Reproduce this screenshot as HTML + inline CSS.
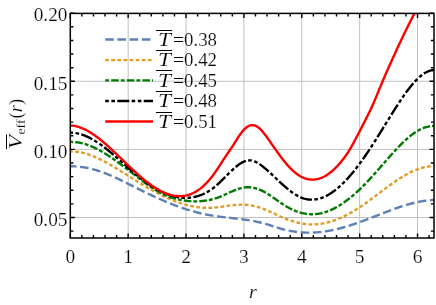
<!DOCTYPE html>
<html><head><meta charset="utf-8"><title>V_eff</title>
<style>
html,body{margin:0;padding:0;background:#fff;}
body{width:436px;height:305px;overflow:hidden;font-family:"Liberation Serif",serif;}
svg{display:block;}
text{font-family:"Liberation Serif",serif;fill:#000;stroke:#fff;stroke-width:0.18px;paint-order:fill stroke;}
svg{will-change:transform;}
</style></head><body>
<svg width="436" height="305" viewBox="0 0 436 305">
<rect width="436" height="305" fill="#fff"/>
<defs><clipPath id="c"><rect x="70.30" y="13.40" width="363.70" height="224.60"/></clipPath></defs>
<path d="M128.17 13.40 V238.00 M186.04 13.40 V238.00 M243.91 13.40 V238.00 M301.78 13.40 V238.00 M359.65 13.40 V238.00 M417.52 13.40 V238.00 M70.30 217.50 H434.00 M70.30 149.40 H434.00 M70.30 81.30 H434.00" stroke="#c2c2c2" stroke-width="1" fill="none"/>
<g clip-path="url(#c)" fill="none" stroke-width="2.4" stroke-linejoin="round">
<path d="M70.30 166.28 L71.30 166.29 L72.30 166.30 L73.30 166.33 L74.30 166.37 L75.30 166.41 L76.30 166.48 L77.30 166.55 L78.30 166.63 L79.30 166.73 L80.30 166.84 L81.30 166.96 L82.30 167.09 L83.30 167.23 L84.30 167.39 L85.30 167.56 L86.30 167.73 L87.30 167.93 L88.30 168.13 L89.30 168.34 L90.30 168.57 L91.30 168.81 L92.30 169.05 L93.30 169.32 L94.30 169.59 L95.30 169.87 L96.30 170.17 L97.30 170.48 L98.30 170.79 L99.30 171.12 L100.30 171.46 L101.30 171.81 L102.30 172.17 L103.30 172.53 L104.30 172.91 L105.30 173.29 L106.30 173.68 L107.30 174.08 L108.30 174.49 L109.30 174.91 L110.30 175.33 L111.30 175.76 L112.30 176.20 L113.30 176.64 L114.30 177.09 L115.30 177.54 L116.30 178.00 L117.30 178.46 L118.30 178.93 L119.30 179.40 L120.30 179.88 L121.30 180.36 L122.30 180.85 L123.30 181.34 L124.30 181.83 L125.30 182.32 L126.30 182.82 L127.30 183.31 L128.30 183.81 L129.30 184.31 L130.30 184.82 L131.30 185.32 L132.30 185.82 L133.30 186.33 L134.30 186.83 L135.30 187.33 L136.30 187.84 L137.30 188.34 L138.30 188.84 L139.30 189.34 L140.30 189.83 L141.30 190.33 L142.30 190.82 L143.30 191.31 L144.30 191.80 L145.30 192.29 L146.30 192.77 L147.30 193.25 L148.30 193.73 L149.30 194.21 L150.30 194.68 L151.30 195.15 L152.30 195.62 L153.30 196.08 L154.30 196.55 L155.30 197.01 L156.30 197.46 L157.30 197.91 L158.30 198.36 L159.30 198.81 L160.30 199.25 L161.30 199.69 L162.30 200.12 L163.30 200.55 L164.30 200.98 L165.30 201.40 L166.30 201.82 L167.30 202.24 L168.30 202.65 L169.30 203.06 L170.30 203.46 L171.30 203.86 L172.30 204.26 L173.30 204.65 L174.30 205.03 L175.30 205.41 L176.30 205.79 L177.30 206.16 L178.30 206.53 L179.30 206.89 L180.30 207.24 L181.30 207.60 L182.30 207.94 L183.30 208.28 L184.30 208.62 L185.30 208.95 L186.30 209.27 L187.30 209.59 L188.30 209.91 L189.30 210.22 L190.30 210.52 L191.30 210.81 L192.30 211.10 L193.30 211.39 L194.30 211.67 L195.30 211.94 L196.30 212.21 L197.30 212.47 L198.30 212.72 L199.30 212.97 L200.30 213.21 L201.30 213.44 L202.30 213.67 L203.30 213.89 L204.30 214.10 L205.30 214.31 L206.30 214.51 L207.30 214.70 L208.30 214.89 L209.30 215.07 L210.30 215.24 L211.30 215.41 L212.30 215.58 L213.30 215.73 L214.30 215.88 L215.30 216.03 L216.30 216.18 L217.30 216.32 L218.30 216.45 L219.30 216.58 L220.30 216.71 L221.30 216.84 L222.30 216.96 L223.30 217.08 L224.30 217.20 L225.30 217.32 L226.30 217.43 L227.30 217.55 L228.30 217.66 L229.30 217.77 L230.30 217.89 L231.30 218.00 L232.30 218.11 L233.30 218.22 L234.30 218.34 L235.30 218.45 L236.30 218.57 L237.30 218.69 L238.30 218.80 L239.30 218.93 L240.30 219.05 L241.30 219.18 L242.30 219.31 L243.30 219.44 L244.30 219.58 L245.30 219.72 L246.30 219.87 L247.30 220.02 L248.30 220.17 L249.30 220.33 L250.30 220.50 L251.30 220.67 L252.30 220.84 L253.30 221.03 L254.30 221.22 L255.30 221.41 L256.30 221.62 L257.30 221.83 L258.30 222.04 L259.30 222.27 L260.30 222.51 L261.30 222.75 L262.30 223.00 L263.30 223.26 L264.30 223.53 L265.30 223.81 L266.30 224.10 L267.30 224.40 L268.30 224.71 L269.30 225.02 L270.30 225.34 L271.30 225.67 L272.30 225.99 L273.30 226.32 L274.30 226.65 L275.30 226.97 L276.30 227.29 L277.30 227.61 L278.30 227.92 L279.30 228.22 L280.30 228.51 L281.30 228.79 L282.30 229.07 L283.30 229.33 L284.30 229.58 L285.30 229.83 L286.30 230.06 L287.30 230.28 L288.30 230.49 L289.30 230.70 L290.30 230.89 L291.30 231.07 L292.30 231.25 L293.30 231.41 L294.30 231.56 L295.30 231.70 L296.30 231.83 L297.30 231.96 L298.30 232.07 L299.30 232.17 L300.30 232.26 L301.30 232.35 L302.30 232.42 L303.30 232.48 L304.30 232.53 L305.30 232.58 L306.30 232.61 L307.30 232.63 L308.30 232.65 L309.30 232.65 L310.30 232.65 L311.30 232.63 L312.30 232.61 L313.30 232.57 L314.30 232.53 L315.30 232.48 L316.30 232.42 L317.30 232.34 L318.30 232.26 L319.30 232.17 L320.30 232.07 L321.30 231.96 L322.30 231.84 L323.30 231.72 L324.30 231.58 L325.30 231.43 L326.30 231.28 L327.30 231.12 L328.30 230.94 L329.30 230.76 L330.30 230.57 L331.30 230.38 L332.30 230.17 L333.30 229.96 L334.30 229.74 L335.30 229.51 L336.30 229.28 L337.30 229.04 L338.30 228.79 L339.30 228.53 L340.30 228.27 L341.30 228.00 L342.30 227.73 L343.30 227.45 L344.30 227.16 L345.30 226.87 L346.30 226.57 L347.30 226.27 L348.30 225.96 L349.30 225.65 L350.30 225.33 L351.30 225.00 L352.30 224.67 L353.30 224.34 L354.30 224.00 L355.30 223.66 L356.30 223.32 L357.30 222.97 L358.30 222.61 L359.30 222.26 L360.30 221.90 L361.30 221.53 L362.30 221.17 L363.30 220.80 L364.30 220.42 L365.30 220.05 L366.30 219.67 L367.30 219.29 L368.30 218.91 L369.30 218.53 L370.30 218.14 L371.30 217.76 L372.30 217.37 L373.30 216.98 L374.30 216.59 L375.30 216.20 L376.30 215.80 L377.30 215.41 L378.30 215.02 L379.30 214.63 L380.30 214.24 L381.30 213.84 L382.30 213.45 L383.30 213.07 L384.30 212.68 L385.30 212.29 L386.30 211.91 L387.30 211.52 L388.30 211.14 L389.30 210.77 L390.30 210.39 L391.30 210.02 L392.30 209.65 L393.30 209.28 L394.30 208.92 L395.30 208.56 L396.30 208.21 L397.30 207.86 L398.30 207.51 L399.30 207.17 L400.30 206.83 L401.30 206.50 L402.30 206.18 L403.30 205.86 L404.30 205.54 L405.30 205.24 L406.30 204.93 L407.30 204.64 L408.30 204.35 L409.30 204.07 L410.30 203.80 L411.30 203.53 L412.30 203.27 L413.30 203.02 L414.30 202.78 L415.30 202.54 L416.30 202.32 L417.30 202.10 L418.30 201.89 L419.30 201.70 L420.30 201.51 L421.30 201.33 L422.30 201.16 L423.30 201.00 L424.30 200.85 L425.30 200.71 L426.30 200.59 L427.30 200.47 L428.30 200.37 L429.30 200.27 L430.30 200.19 L431.30 200.12 L432.30 200.07 L433.30 200.02 L434.30 199.99 L435.30 199.97" stroke="#5E81B5" stroke-dasharray="8.6 3.6" stroke-dashoffset="2.4"/>
<path d="M70.30 151.38 L71.30 151.39 L72.30 151.41 L73.30 151.46 L74.30 151.52 L75.30 151.60 L76.30 151.70 L77.30 151.82 L78.30 151.96 L79.30 152.12 L80.30 152.29 L81.30 152.49 L82.30 152.71 L83.30 152.94 L84.30 153.20 L85.30 153.47 L86.30 153.76 L87.30 154.06 L88.30 154.38 L89.30 154.72 L90.30 155.08 L91.30 155.44 L92.30 155.83 L93.30 156.23 L94.30 156.64 L95.30 157.06 L96.30 157.50 L97.30 157.95 L98.30 158.42 L99.30 158.89 L100.30 159.38 L101.30 159.88 L102.30 160.38 L103.30 160.90 L104.30 161.43 L105.30 161.97 L106.30 162.51 L107.30 163.07 L108.30 163.63 L109.30 164.20 L110.30 164.77 L111.30 165.35 L112.30 165.94 L113.30 166.54 L114.30 167.14 L115.30 167.74 L116.30 168.35 L117.30 168.96 L118.30 169.58 L119.30 170.20 L120.30 170.82 L121.30 171.45 L122.30 172.07 L123.30 172.70 L124.30 173.33 L125.30 173.96 L126.30 174.59 L127.30 175.22 L128.30 175.85 L129.30 176.48 L130.30 177.10 L131.30 177.73 L132.30 178.35 L133.30 178.98 L134.30 179.60 L135.30 180.22 L136.30 180.84 L137.30 181.45 L138.30 182.07 L139.30 182.68 L140.30 183.29 L141.30 183.89 L142.30 184.49 L143.30 185.09 L144.30 185.69 L145.30 186.28 L146.30 186.86 L147.30 187.45 L148.30 188.03 L149.30 188.60 L150.30 189.17 L151.30 189.73 L152.30 190.29 L153.30 190.85 L154.30 191.39 L155.30 191.94 L156.30 192.47 L157.30 193.00 L158.30 193.53 L159.30 194.04 L160.30 194.56 L161.30 195.06 L162.30 195.56 L163.30 196.05 L164.30 196.53 L165.30 197.00 L166.30 197.47 L167.30 197.93 L168.30 198.38 L169.30 198.82 L170.30 199.25 L171.30 199.67 L172.30 200.09 L173.30 200.50 L174.30 200.89 L175.30 201.28 L176.30 201.65 L177.30 202.02 L178.30 202.38 L179.30 202.73 L180.30 203.06 L181.30 203.39 L182.30 203.70 L183.30 204.01 L184.30 204.30 L185.30 204.59 L186.30 204.86 L187.30 205.12 L188.30 205.37 L189.30 205.61 L190.30 205.84 L191.30 206.05 L192.30 206.26 L193.30 206.45 L194.30 206.63 L195.30 206.80 L196.30 206.95 L197.30 207.10 L198.30 207.23 L199.30 207.35 L200.30 207.45 L201.30 207.55 L202.30 207.63 L203.30 207.70 L204.30 207.75 L205.30 207.79 L206.30 207.82 L207.30 207.83 L208.30 207.83 L209.30 207.82 L210.30 207.79 L211.30 207.75 L212.30 207.70 L213.30 207.63 L214.30 207.55 L215.30 207.46 L216.30 207.36 L217.30 207.25 L218.30 207.14 L219.30 207.01 L220.30 206.89 L221.30 206.75 L222.30 206.62 L223.30 206.48 L224.30 206.33 L225.30 206.19 L226.30 206.05 L227.30 205.91 L228.30 205.77 L229.30 205.64 L230.30 205.51 L231.30 205.38 L232.30 205.26 L233.30 205.15 L234.30 205.05 L235.30 204.95 L236.30 204.87 L237.30 204.80 L238.30 204.74 L239.30 204.69 L240.30 204.66 L241.30 204.64 L242.30 204.64 L243.30 204.66 L244.30 204.69 L245.30 204.75 L246.30 204.82 L247.30 204.91 L248.30 205.02 L249.30 205.15 L250.30 205.30 L251.30 205.46 L252.30 205.65 L253.30 205.85 L254.30 206.06 L255.30 206.30 L256.30 206.55 L257.30 206.82 L258.30 207.10 L259.30 207.41 L260.30 207.72 L261.30 208.06 L262.30 208.41 L263.30 208.78 L264.30 209.16 L265.30 209.56 L266.30 209.97 L267.30 210.40 L268.30 210.84 L269.30 211.29 L270.30 211.75 L271.30 212.22 L272.30 212.70 L273.30 213.18 L274.30 213.66 L275.30 214.14 L276.30 214.62 L277.30 215.09 L278.30 215.57 L279.30 216.03 L280.30 216.49 L281.30 216.93 L282.30 217.37 L283.30 217.80 L284.30 218.21 L285.30 218.62 L286.30 219.01 L287.30 219.39 L288.30 219.76 L289.30 220.12 L290.30 220.47 L291.30 220.80 L292.30 221.12 L293.30 221.43 L294.30 221.73 L295.30 222.01 L296.30 222.28 L297.30 222.53 L298.30 222.77 L299.30 223.00 L300.30 223.21 L301.30 223.40 L302.30 223.58 L303.30 223.74 L304.30 223.89 L305.30 224.02 L306.30 224.14 L307.30 224.23 L308.30 224.31 L309.30 224.38 L310.30 224.42 L311.30 224.45 L312.30 224.46 L313.30 224.45 L314.30 224.42 L315.30 224.38 L316.30 224.32 L317.30 224.24 L318.30 224.14 L319.30 224.03 L320.30 223.90 L321.30 223.75 L322.30 223.58 L323.30 223.40 L324.30 223.21 L325.30 222.99 L326.30 222.77 L327.30 222.52 L328.30 222.26 L329.30 221.99 L330.30 221.70 L331.30 221.39 L332.30 221.07 L333.30 220.74 L334.30 220.39 L335.30 220.03 L336.30 219.65 L337.30 219.26 L338.30 218.86 L339.30 218.44 L340.30 218.01 L341.30 217.57 L342.30 217.11 L343.30 216.64 L344.30 216.16 L345.30 215.66 L346.30 215.15 L347.30 214.63 L348.30 214.10 L349.30 213.56 L350.30 213.00 L351.30 212.44 L352.30 211.86 L353.30 211.27 L354.30 210.67 L355.30 210.06 L356.30 209.44 L357.30 208.81 L358.30 208.17 L359.30 207.52 L360.30 206.86 L361.30 206.19 L362.30 205.51 L363.30 204.82 L364.30 204.12 L365.30 203.42 L366.30 202.71 L367.30 201.99 L368.30 201.27 L369.30 200.54 L370.30 199.81 L371.30 199.08 L372.30 198.33 L373.30 197.59 L374.30 196.84 L375.30 196.10 L376.30 195.35 L377.30 194.59 L378.30 193.84 L379.30 193.09 L380.30 192.34 L381.30 191.58 L382.30 190.83 L383.30 190.08 L384.30 189.34 L385.30 188.59 L386.30 187.85 L387.30 187.12 L388.30 186.39 L389.30 185.66 L390.30 184.94 L391.30 184.22 L392.30 183.51 L393.30 182.81 L394.30 182.12 L395.30 181.43 L396.30 180.75 L397.30 180.08 L398.30 179.42 L399.30 178.77 L400.30 178.13 L401.30 177.50 L402.30 176.88 L403.30 176.28 L404.30 175.69 L405.30 175.11 L406.30 174.54 L407.30 173.99 L408.30 173.45 L409.30 172.93 L410.30 172.42 L411.30 171.93 L412.30 171.46 L413.30 171.00 L414.30 170.56 L415.30 170.14 L416.30 169.74 L417.30 169.36 L418.30 168.99 L419.30 168.65 L420.30 168.33 L421.30 168.02 L422.30 167.74 L423.30 167.48 L424.30 167.24 L425.30 167.01 L426.30 166.82 L427.30 166.64 L428.30 166.48 L429.30 166.34 L430.30 166.23 L431.30 166.14 L432.30 166.07 L433.30 166.02 L434.30 166.00 L435.30 166.00" stroke="#E19C24" stroke-dasharray="3.7 2.4" stroke-dashoffset="1.2"/>
<path d="M70.30 141.90 L71.30 141.90 L72.30 141.93 L73.30 141.97 L74.30 142.03 L75.30 142.11 L76.30 142.22 L77.30 142.35 L78.30 142.49 L79.30 142.66 L80.30 142.86 L81.30 143.07 L82.30 143.30 L83.30 143.56 L84.30 143.84 L85.30 144.13 L86.30 144.45 L87.30 144.78 L88.30 145.14 L89.30 145.51 L90.30 145.90 L91.30 146.31 L92.30 146.74 L93.30 147.18 L94.30 147.64 L95.30 148.11 L96.30 148.60 L97.30 149.11 L98.30 149.63 L99.30 150.16 L100.30 150.71 L101.30 151.27 L102.30 151.85 L103.30 152.44 L104.30 153.04 L105.30 153.65 L106.30 154.27 L107.30 154.90 L108.30 155.55 L109.30 156.20 L110.30 156.87 L111.30 157.54 L112.30 158.23 L113.30 158.92 L114.30 159.62 L115.30 160.32 L116.30 161.04 L117.30 161.76 L118.30 162.49 L119.30 163.22 L120.30 163.96 L121.30 164.70 L122.30 165.45 L123.30 166.21 L124.30 166.97 L125.30 167.73 L126.30 168.49 L127.30 169.26 L128.30 170.03 L129.30 170.80 L130.30 171.57 L131.30 172.34 L132.30 173.12 L133.30 173.89 L134.30 174.66 L135.30 175.43 L136.30 176.20 L137.30 176.97 L138.30 177.73 L139.30 178.49 L140.30 179.25 L141.30 180.01 L142.30 180.76 L143.30 181.50 L144.30 182.24 L145.30 182.97 L146.30 183.69 L147.30 184.41 L148.30 185.12 L149.30 185.81 L150.30 186.50 L151.30 187.18 L152.30 187.85 L153.30 188.50 L154.30 189.14 L155.30 189.77 L156.30 190.39 L157.30 190.99 L158.30 191.57 L159.30 192.14 L160.30 192.70 L161.30 193.23 L162.30 193.75 L163.30 194.25 L164.30 194.73 L165.30 195.19 L166.30 195.64 L167.30 196.06 L168.30 196.45 L169.30 196.83 L170.30 197.19 L171.30 197.53 L172.30 197.85 L173.30 198.15 L174.30 198.44 L175.30 198.70 L176.30 198.96 L177.30 199.19 L178.30 199.42 L179.30 199.63 L180.30 199.83 L181.30 200.01 L182.30 200.19 L183.30 200.35 L184.30 200.50 L185.30 200.64 L186.30 200.77 L187.30 200.88 L188.30 200.99 L189.30 201.08 L190.30 201.16 L191.30 201.22 L192.30 201.27 L193.30 201.31 L194.30 201.34 L195.30 201.35 L196.30 201.34 L197.30 201.33 L198.30 201.30 L199.30 201.25 L200.30 201.19 L201.30 201.12 L202.30 201.03 L203.30 200.93 L204.30 200.81 L205.30 200.67 L206.30 200.52 L207.30 200.36 L208.30 200.17 L209.30 199.98 L210.30 199.76 L211.30 199.53 L212.30 199.28 L213.30 199.01 L214.30 198.73 L215.30 198.43 L216.30 198.11 L217.30 197.78 L218.30 197.42 L219.30 197.05 L220.30 196.66 L221.30 196.25 L222.30 195.83 L223.30 195.39 L224.30 194.94 L225.30 194.49 L226.30 194.03 L227.30 193.57 L228.30 193.10 L229.30 192.64 L230.30 192.18 L231.30 191.73 L232.30 191.29 L233.30 190.85 L234.30 190.43 L235.30 190.03 L236.30 189.64 L237.30 189.28 L238.30 188.94 L239.30 188.62 L240.30 188.33 L241.30 188.07 L242.30 187.84 L243.30 187.65 L244.30 187.49 L245.30 187.37 L246.30 187.29 L247.30 187.25 L248.30 187.24 L249.30 187.27 L250.30 187.34 L251.30 187.44 L252.30 187.58 L253.30 187.76 L254.30 187.96 L255.30 188.21 L256.30 188.49 L257.30 188.80 L258.30 189.15 L259.30 189.53 L260.30 189.94 L261.30 190.39 L262.30 190.87 L263.30 191.38 L264.30 191.91 L265.30 192.47 L266.30 193.06 L267.30 193.66 L268.30 194.29 L269.30 194.93 L270.30 195.59 L271.30 196.26 L272.30 196.94 L273.30 197.63 L274.30 198.32 L275.30 199.02 L276.30 199.73 L277.30 200.43 L278.30 201.13 L279.30 201.83 L280.30 202.52 L281.30 203.20 L282.30 203.87 L283.30 204.53 L284.30 205.17 L285.30 205.80 L286.30 206.40 L287.30 206.99 L288.30 207.55 L289.30 208.10 L290.30 208.62 L291.30 209.11 L292.30 209.59 L293.30 210.04 L294.30 210.47 L295.30 210.88 L296.30 211.27 L297.30 211.63 L298.30 211.97 L299.30 212.28 L300.30 212.58 L301.30 212.85 L302.30 213.09 L303.30 213.32 L304.30 213.52 L305.30 213.69 L306.30 213.84 L307.30 213.97 L308.30 214.08 L309.30 214.16 L310.30 214.21 L311.30 214.24 L312.30 214.25 L313.30 214.23 L314.30 214.19 L315.30 214.13 L316.30 214.03 L317.30 213.92 L318.30 213.78 L319.30 213.61 L320.30 213.42 L321.30 213.21 L322.30 212.97 L323.30 212.71 L324.30 212.43 L325.30 212.12 L326.30 211.79 L327.30 211.44 L328.30 211.07 L329.30 210.67 L330.30 210.25 L331.30 209.81 L332.30 209.35 L333.30 208.87 L334.30 208.37 L335.30 207.85 L336.30 207.31 L337.30 206.74 L338.30 206.16 L339.30 205.56 L340.30 204.94 L341.30 204.30 L342.30 203.64 L343.30 202.96 L344.30 202.26 L345.30 201.55 L346.30 200.81 L347.30 200.06 L348.30 199.30 L349.30 198.51 L350.30 197.71 L351.30 196.89 L352.30 196.05 L353.30 195.20 L354.30 194.34 L355.30 193.45 L356.30 192.55 L357.30 191.64 L358.30 190.71 L359.30 189.77 L360.30 188.81 L361.30 187.84 L362.30 186.85 L363.30 185.85 L364.30 184.84 L365.30 183.81 L366.30 182.77 L367.30 181.72 L368.30 180.65 L369.30 179.58 L370.30 178.50 L371.30 177.41 L372.30 176.30 L373.30 175.20 L374.30 174.08 L375.30 172.96 L376.30 171.84 L377.30 170.70 L378.30 169.57 L379.30 168.43 L380.30 167.29 L381.30 166.15 L382.30 165.01 L383.30 163.86 L384.30 162.72 L385.30 161.58 L386.30 160.44 L387.30 159.30 L388.30 158.16 L389.30 157.03 L390.30 155.91 L391.30 154.79 L392.30 153.68 L393.30 152.57 L394.30 151.47 L395.30 150.39 L396.30 149.31 L397.30 148.24 L398.30 147.19 L399.30 146.16 L400.30 145.13 L401.30 144.13 L402.30 143.14 L403.30 142.16 L404.30 141.21 L405.30 140.28 L406.30 139.37 L407.30 138.48 L408.30 137.61 L409.30 136.77 L410.30 135.96 L411.30 135.17 L412.30 134.41 L413.30 133.67 L414.30 132.97 L415.30 132.29 L416.30 131.65 L417.30 131.04 L418.30 130.47 L419.30 129.92 L420.30 129.42 L421.30 128.94 L422.30 128.50 L423.30 128.10 L424.30 127.73 L425.30 127.39 L426.30 127.09 L427.30 126.82 L428.30 126.59 L429.30 126.39 L430.30 126.23 L431.30 126.11 L432.30 126.02 L433.30 125.96 L434.30 125.94 L435.30 125.96" stroke="#007A00" stroke-dasharray="7.6 2.0 3.9 2.1" stroke-dashoffset="10.6"/>
<path d="M70.30 132.66 L71.30 132.67 L72.30 132.71 L73.30 132.78 L74.30 132.88 L75.30 133.02 L76.30 133.18 L77.30 133.37 L78.30 133.59 L79.30 133.83 L80.30 134.10 L81.30 134.40 L82.30 134.73 L83.30 135.08 L84.30 135.45 L85.30 135.85 L86.30 136.28 L87.30 136.72 L88.30 137.19 L89.30 137.68 L90.30 138.20 L91.30 138.73 L92.30 139.28 L93.30 139.86 L94.30 140.45 L95.30 141.06 L96.30 141.69 L97.30 142.34 L98.30 143.00 L99.30 143.68 L100.30 144.38 L101.30 145.09 L102.30 145.82 L103.30 146.56 L104.30 147.32 L105.30 148.08 L106.30 148.86 L107.30 149.66 L108.30 150.46 L109.30 151.28 L110.30 152.10 L111.30 152.94 L112.30 153.78 L113.30 154.63 L114.30 155.49 L115.30 156.36 L116.30 157.23 L117.30 158.10 L118.30 158.99 L119.30 159.87 L120.30 160.76 L121.30 161.65 L122.30 162.54 L123.30 163.43 L124.30 164.32 L125.30 165.21 L126.30 166.10 L127.30 166.99 L128.30 167.87 L129.30 168.75 L130.30 169.63 L131.30 170.50 L132.30 171.37 L133.30 172.23 L134.30 173.08 L135.30 173.93 L136.30 174.76 L137.30 175.59 L138.30 176.41 L139.30 177.21 L140.30 178.01 L141.30 178.79 L142.30 179.56 L143.30 180.32 L144.30 181.07 L145.30 181.80 L146.30 182.52 L147.30 183.23 L148.30 183.92 L149.30 184.60 L150.30 185.26 L151.30 185.92 L152.30 186.55 L153.30 187.17 L154.30 187.78 L155.30 188.37 L156.30 188.95 L157.30 189.51 L158.30 190.05 L159.30 190.58 L160.30 191.09 L161.30 191.58 L162.30 192.06 L163.30 192.52 L164.30 192.97 L165.30 193.39 L166.30 193.80 L167.30 194.19 L168.30 194.56 L169.30 194.91 L170.30 195.24 L171.30 195.56 L172.30 195.85 L173.30 196.13 L174.30 196.39 L175.30 196.62 L176.30 196.84 L177.30 197.03 L178.30 197.21 L179.30 197.36 L180.30 197.49 L181.30 197.60 L182.30 197.69 L183.30 197.76 L184.30 197.80 L185.30 197.82 L186.30 197.82 L187.30 197.80 L188.30 197.75 L189.30 197.68 L190.30 197.59 L191.30 197.47 L192.30 197.32 L193.30 197.15 L194.30 196.96 L195.30 196.74 L196.30 196.49 L197.30 196.22 L198.30 195.92 L199.30 195.59 L200.30 195.24 L201.30 194.86 L202.30 194.45 L203.30 194.01 L204.30 193.54 L205.30 193.04 L206.30 192.52 L207.30 191.96 L208.30 191.37 L209.30 190.75 L210.30 190.10 L211.30 189.42 L212.30 188.71 L213.30 187.97 L214.30 187.19 L215.30 186.38 L216.30 185.54 L217.30 184.66 L218.30 183.76 L219.30 182.83 L220.30 181.88 L221.30 180.91 L222.30 179.92 L223.30 178.93 L224.30 177.92 L225.30 176.91 L226.30 175.90 L227.30 174.90 L228.30 173.89 L229.30 172.90 L230.30 171.92 L231.30 170.96 L232.30 170.01 L233.30 169.09 L234.30 168.20 L235.30 167.33 L236.30 166.50 L237.30 165.71 L238.30 164.95 L239.30 164.25 L240.30 163.58 L241.30 162.97 L242.30 162.42 L243.30 161.92 L244.30 161.48 L245.30 161.11 L246.30 160.81 L247.30 160.59 L248.30 160.44 L249.30 160.37 L250.30 160.38 L251.30 160.49 L252.30 160.68 L253.30 160.95 L254.30 161.29 L255.30 161.71 L256.30 162.19 L257.30 162.73 L258.30 163.32 L259.30 163.97 L260.30 164.65 L261.30 165.37 L262.30 166.13 L263.30 166.91 L264.30 167.73 L265.30 168.56 L266.30 169.42 L267.30 170.30 L268.30 171.20 L269.30 172.11 L270.30 173.04 L271.30 173.97 L272.30 174.91 L273.30 175.85 L274.30 176.80 L275.30 177.75 L276.30 178.69 L277.30 179.63 L278.30 180.57 L279.30 181.51 L280.30 182.43 L281.30 183.35 L282.30 184.26 L283.30 185.15 L284.30 186.04 L285.30 186.90 L286.30 187.76 L287.30 188.59 L288.30 189.41 L289.30 190.20 L290.30 190.97 L291.30 191.72 L292.30 192.44 L293.30 193.14 L294.30 193.81 L295.30 194.45 L296.30 195.06 L297.30 195.63 L298.30 196.17 L299.30 196.67 L300.30 197.14 L301.30 197.57 L302.30 197.96 L303.30 198.31 L304.30 198.61 L305.30 198.88 L306.30 199.11 L307.30 199.29 L308.30 199.44 L309.30 199.55 L310.30 199.62 L311.30 199.66 L312.30 199.65 L313.30 199.61 L314.30 199.53 L315.30 199.42 L316.30 199.27 L317.30 199.08 L318.30 198.86 L319.30 198.61 L320.30 198.32 L321.30 197.99 L322.30 197.64 L323.30 197.24 L324.30 196.82 L325.30 196.36 L326.30 195.87 L327.30 195.35 L328.30 194.80 L329.30 194.22 L330.30 193.61 L331.30 192.96 L332.30 192.29 L333.30 191.58 L334.30 190.85 L335.30 190.09 L336.30 189.30 L337.30 188.48 L338.30 187.64 L339.30 186.76 L340.30 185.87 L341.30 184.94 L342.30 183.99 L343.30 183.01 L344.30 182.01 L345.30 180.98 L346.30 179.93 L347.30 178.85 L348.30 177.75 L349.30 176.62 L350.30 175.48 L351.30 174.31 L352.30 173.11 L353.30 171.90 L354.30 170.66 L355.30 169.41 L356.30 168.13 L357.30 166.83 L358.30 165.51 L359.30 164.17 L360.30 162.82 L361.30 161.44 L362.30 160.05 L363.30 158.63 L364.30 157.20 L365.30 155.76 L366.30 154.29 L367.30 152.81 L368.30 151.32 L369.30 149.81 L370.30 148.29 L371.30 146.75 L372.30 145.21 L373.30 143.65 L374.30 142.08 L375.30 140.51 L376.30 138.93 L377.30 137.34 L378.30 135.74 L379.30 134.14 L380.30 132.53 L381.30 130.93 L382.30 129.31 L383.30 127.70 L384.30 126.08 L385.30 124.47 L386.30 122.85 L387.30 121.24 L388.30 119.62 L389.30 118.02 L390.30 116.41 L391.30 114.81 L392.30 113.22 L393.30 111.63 L394.30 110.05 L395.30 108.48 L396.30 106.91 L397.30 105.36 L398.30 103.82 L399.30 102.29 L400.30 100.78 L401.30 99.29 L402.30 97.82 L403.30 96.36 L404.30 94.93 L405.30 93.53 L406.30 92.14 L407.30 90.79 L408.30 89.46 L409.30 88.16 L410.30 86.90 L411.30 85.66 L412.30 84.47 L413.30 83.30 L414.30 82.18 L415.30 81.10 L416.30 80.05 L417.30 79.05 L418.30 78.10 L419.30 77.18 L420.30 76.32 L421.30 75.51 L422.30 74.74 L423.30 74.03 L424.30 73.37 L425.30 72.77 L426.30 72.23 L427.30 71.74 L428.30 71.31 L429.30 70.95 L430.30 70.65 L431.30 70.41 L432.30 70.24 L433.30 70.13 L434.30 70.10 L435.30 70.13" stroke="#000000" stroke-dasharray="12 2.3 3.6 2.6 3.6 2.3" stroke-dashoffset="15.2"/>
<path d="M70.30 125.43 L71.30 125.49 L72.30 125.59 L73.30 125.72 L74.30 125.89 L75.30 126.08 L76.30 126.31 L77.30 126.57 L78.30 126.86 L79.30 127.18 L80.30 127.53 L81.30 127.90 L82.30 128.31 L83.30 128.74 L84.30 129.20 L85.30 129.68 L86.30 130.19 L87.30 130.72 L88.30 131.28 L89.30 131.86 L90.30 132.47 L91.30 133.09 L92.30 133.74 L93.30 134.40 L94.30 135.09 L95.30 135.80 L96.30 136.52 L97.30 137.27 L98.30 138.03 L99.30 138.80 L100.30 139.60 L101.30 140.40 L102.30 141.23 L103.30 142.06 L104.30 142.91 L105.30 143.78 L106.30 144.65 L107.30 145.54 L108.30 146.43 L109.30 147.34 L110.30 148.26 L111.30 149.18 L112.30 150.11 L113.30 151.05 L114.30 152.00 L115.30 152.95 L116.30 153.90 L117.30 154.86 L118.30 155.83 L119.30 156.79 L120.30 157.76 L121.30 158.73 L122.30 159.70 L123.30 160.68 L124.30 161.65 L125.30 162.62 L126.30 163.58 L127.30 164.55 L128.30 165.51 L129.30 166.47 L130.30 167.42 L131.30 168.37 L132.30 169.31 L133.30 170.24 L134.30 171.17 L135.30 172.09 L136.30 173.00 L137.30 173.90 L138.30 174.79 L139.30 175.67 L140.30 176.54 L141.30 177.40 L142.30 178.24 L143.30 179.07 L144.30 179.89 L145.30 180.70 L146.30 181.49 L147.30 182.26 L148.30 183.02 L149.30 183.77 L150.30 184.49 L151.30 185.20 L152.30 185.90 L153.30 186.57 L154.30 187.23 L155.30 187.87 L156.30 188.49 L157.30 189.09 L158.30 189.66 L159.30 190.22 L160.30 190.76 L161.30 191.27 L162.30 191.76 L163.30 192.23 L164.30 192.67 L165.30 193.09 L166.30 193.49 L167.30 193.86 L168.30 194.20 L169.30 194.52 L170.30 194.81 L171.30 195.08 L172.30 195.31 L173.30 195.52 L174.30 195.70 L175.30 195.85 L176.30 195.97 L177.30 196.06 L178.30 196.12 L179.30 196.15 L180.30 196.15 L181.30 196.11 L182.30 196.04 L183.30 195.94 L184.30 195.81 L185.30 195.64 L186.30 195.43 L187.30 195.19 L188.30 194.91 L189.30 194.60 L190.30 194.25 L191.30 193.87 L192.30 193.44 L193.30 192.98 L194.30 192.47 L195.30 191.93 L196.30 191.35 L197.30 190.73 L198.30 190.06 L199.30 189.36 L200.30 188.61 L201.30 187.82 L202.30 186.99 L203.30 186.11 L204.30 185.19 L205.30 184.23 L206.30 183.22 L207.30 182.17 L208.30 181.07 L209.30 179.92 L210.30 178.73 L211.30 177.49 L212.30 176.21 L213.30 174.88 L214.30 173.50 L215.30 172.08 L216.30 170.63 L217.30 169.14 L218.30 167.64 L219.30 166.11 L220.30 164.58 L221.30 163.03 L222.30 161.48 L223.30 159.94 L224.30 158.41 L225.30 156.89 L226.30 155.38 L227.30 153.91 L228.30 152.45 L229.30 151.00 L230.30 149.55 L231.30 148.09 L232.30 146.59 L233.30 145.07 L234.30 143.51 L235.30 141.92 L236.30 140.34 L237.30 138.76 L238.30 137.21 L239.30 135.70 L240.30 134.25 L241.30 132.86 L242.30 131.56 L243.30 130.36 L244.30 129.28 L245.30 128.32 L246.30 127.48 L247.30 126.77 L248.30 126.19 L249.30 125.73 L250.30 125.40 L251.30 125.20 L252.30 125.13 L253.30 125.18 L254.30 125.37 L255.30 125.69 L256.30 126.14 L257.30 126.72 L258.30 127.42 L259.30 128.24 L260.30 129.16 L261.30 130.18 L262.30 131.28 L263.30 132.46 L264.30 133.70 L265.30 135.00 L266.30 136.35 L267.30 137.74 L268.30 139.15 L269.30 140.58 L270.30 142.02 L271.30 143.46 L272.30 144.90 L273.30 146.33 L274.30 147.76 L275.30 149.18 L276.30 150.59 L277.30 151.99 L278.30 153.37 L279.30 154.74 L280.30 156.09 L281.30 157.42 L282.30 158.72 L283.30 160.01 L284.30 161.26 L285.30 162.49 L286.30 163.68 L287.30 164.85 L288.30 165.98 L289.30 167.07 L290.30 168.13 L291.30 169.14 L292.30 170.11 L293.30 171.04 L294.30 171.92 L295.30 172.75 L296.30 173.54 L297.30 174.27 L298.30 174.96 L299.30 175.60 L300.30 176.19 L301.30 176.73 L302.30 177.22 L303.30 177.67 L304.30 178.07 L305.30 178.43 L306.30 178.73 L307.30 178.99 L308.30 179.21 L309.30 179.37 L310.30 179.50 L311.30 179.57 L312.30 179.60 L313.30 179.59 L314.30 179.53 L315.30 179.42 L316.30 179.27 L317.30 179.07 L318.30 178.84 L319.30 178.55 L320.30 178.22 L321.30 177.85 L322.30 177.44 L323.30 176.98 L324.30 176.48 L325.30 175.93 L326.30 175.35 L327.30 174.72 L328.30 174.04 L329.30 173.33 L330.30 172.57 L331.30 171.78 L332.30 170.94 L333.30 170.05 L334.30 169.13 L335.30 168.17 L336.30 167.16 L337.30 166.12 L338.30 165.03 L339.30 163.91 L340.30 162.74 L341.30 161.54 L342.30 160.29 L343.30 159.01 L344.30 157.68 L345.30 156.32 L346.30 154.91 L347.30 153.45 L348.30 151.93 L349.30 150.35 L350.30 148.69 L351.30 146.96 L352.30 145.16 L353.30 143.31 L354.30 141.44 L355.30 139.56 L356.30 137.67 L357.30 135.76 L358.30 133.85 L359.30 131.93 L360.30 130.00 L361.30 128.07 L362.30 126.12 L363.30 124.17 L364.30 122.20 L365.30 120.23 L366.30 118.25 L367.30 116.27 L368.30 114.27 L369.30 112.26 L370.30 110.21 L371.30 108.11 L372.30 105.94 L373.30 103.69 L374.30 101.37 L375.30 99.00 L376.30 96.59 L377.30 94.15 L378.30 91.70 L379.30 89.26 L380.30 86.84 L381.30 84.44 L382.30 82.07 L383.30 79.72 L384.30 77.39 L385.30 75.08 L386.30 72.79 L387.30 70.51 L388.30 68.25 L389.30 65.99 L390.30 63.75 L391.30 61.52 L392.30 59.29 L393.30 57.08 L394.30 54.88 L395.30 52.70 L396.30 50.52 L397.30 48.36 L398.30 46.21 L399.30 44.07 L400.30 41.95 L401.30 39.84 L402.30 37.74 L403.30 35.66 L404.30 33.59 L405.30 31.53 L406.30 29.49 L407.30 27.47 L408.30 25.46 L409.30 23.47 L410.30 21.49 L411.30 19.53 L412.30 17.58 L413.30 15.65 L414.30 13.74 L415.30 11.85 L416.30 9.97 L417.30 8.11 L418.30 6.27 L419.30 4.45 L420.30 2.65 L421.30 0.86 L422.30 -0.90 L423.30 -2.65 L424.30 -4.37 L425.30 -6.08 L426.30 -7.76 L427.30 -9.43 L428.30 -11.07 L429.30 -12.70 L430.30 -14.30 L431.30 -15.88 L432.30 -17.43 L433.30 -18.97 L434.30 -20.48 L435.30 -21.97" stroke="#FF0000"/>
</g>
<path d="M70.30 238.00 v-4.50 M70.30 13.40 v4.50 M81.87 238.00 v-3.10 M81.87 13.40 v3.10 M93.45 238.00 v-3.10 M93.45 13.40 v3.10 M105.02 238.00 v-3.10 M105.02 13.40 v3.10 M116.60 238.00 v-3.10 M116.60 13.40 v3.10 M128.17 238.00 v-4.50 M128.17 13.40 v4.50 M139.74 238.00 v-3.10 M139.74 13.40 v3.10 M151.32 238.00 v-3.10 M151.32 13.40 v3.10 M162.89 238.00 v-3.10 M162.89 13.40 v3.10 M174.47 238.00 v-3.10 M174.47 13.40 v3.10 M186.04 238.00 v-4.50 M186.04 13.40 v4.50 M197.61 238.00 v-3.10 M197.61 13.40 v3.10 M209.19 238.00 v-3.10 M209.19 13.40 v3.10 M220.76 238.00 v-3.10 M220.76 13.40 v3.10 M232.34 238.00 v-3.10 M232.34 13.40 v3.10 M243.91 238.00 v-4.50 M243.91 13.40 v4.50 M255.48 238.00 v-3.10 M255.48 13.40 v3.10 M267.06 238.00 v-3.10 M267.06 13.40 v3.10 M278.63 238.00 v-3.10 M278.63 13.40 v3.10 M290.21 238.00 v-3.10 M290.21 13.40 v3.10 M301.78 238.00 v-4.50 M301.78 13.40 v4.50 M313.35 238.00 v-3.10 M313.35 13.40 v3.10 M324.93 238.00 v-3.10 M324.93 13.40 v3.10 M336.50 238.00 v-3.10 M336.50 13.40 v3.10 M348.08 238.00 v-3.10 M348.08 13.40 v3.10 M359.65 238.00 v-4.50 M359.65 13.40 v4.50 M371.22 238.00 v-3.10 M371.22 13.40 v3.10 M382.80 238.00 v-3.10 M382.80 13.40 v3.10 M394.37 238.00 v-3.10 M394.37 13.40 v3.10 M405.95 238.00 v-3.10 M405.95 13.40 v3.10 M417.52 238.00 v-4.50 M417.52 13.40 v4.50 M429.09 238.00 v-3.10 M429.09 13.40 v3.10 M70.30 231.12 h3.10 M434.00 231.12 h-3.10 M70.30 217.50 h4.50 M434.00 217.50 h-4.50 M70.30 203.88 h3.10 M434.00 203.88 h-3.10 M70.30 190.26 h3.10 M434.00 190.26 h-3.10 M70.30 176.64 h3.10 M434.00 176.64 h-3.10 M70.30 163.02 h3.10 M434.00 163.02 h-3.10 M70.30 149.40 h4.50 M434.00 149.40 h-4.50 M70.30 135.78 h3.10 M434.00 135.78 h-3.10 M70.30 122.16 h3.10 M434.00 122.16 h-3.10 M70.30 108.54 h3.10 M434.00 108.54 h-3.10 M70.30 94.92 h3.10 M434.00 94.92 h-3.10 M70.30 81.30 h4.50 M434.00 81.30 h-4.50 M70.30 67.68 h3.10 M434.00 67.68 h-3.10 M70.30 54.06 h3.10 M434.00 54.06 h-3.10 M70.30 40.44 h3.10 M434.00 40.44 h-3.10 M70.30 26.82 h3.10 M434.00 26.82 h-3.10 M70.30 13.20 h4.50 M434.00 13.20 h-4.50" stroke="#000" stroke-width="1.4" fill="none"/>
<rect x="70.30" y="13.40" width="363.70" height="224.60" fill="none" stroke="#000" stroke-width="1.5"/>
<text x="70.30" y="262.6" font-size="18" text-anchor="middle" textLength="9.7" lengthAdjust="spacingAndGlyphs">0</text>
<text x="128.17" y="262.6" font-size="18" text-anchor="middle" textLength="9.7" lengthAdjust="spacingAndGlyphs">1</text>
<text x="186.04" y="262.6" font-size="18" text-anchor="middle" textLength="9.7" lengthAdjust="spacingAndGlyphs">2</text>
<text x="243.91" y="262.6" font-size="18" text-anchor="middle" textLength="9.7" lengthAdjust="spacingAndGlyphs">3</text>
<text x="301.78" y="262.6" font-size="18" text-anchor="middle" textLength="9.7" lengthAdjust="spacingAndGlyphs">4</text>
<text x="359.65" y="262.6" font-size="18" text-anchor="middle" textLength="9.7" lengthAdjust="spacingAndGlyphs">5</text>
<text x="417.52" y="262.6" font-size="18" text-anchor="middle" textLength="9.7" lengthAdjust="spacingAndGlyphs">6</text>
<text x="33.7" y="225.70" font-size="18" textLength="33.8" lengthAdjust="spacingAndGlyphs">0.05</text>
<text x="33.7" y="157.60" font-size="18" textLength="33.8" lengthAdjust="spacingAndGlyphs">0.10</text>
<text x="33.7" y="89.50" font-size="18" textLength="33.8" lengthAdjust="spacingAndGlyphs">0.15</text>
<text x="33.7" y="21.40" font-size="18" textLength="33.8" lengthAdjust="spacingAndGlyphs">0.20</text>
<text x="253" y="297.5" font-size="18" font-style="italic" text-anchor="middle" textLength="7.8" lengthAdjust="spacingAndGlyphs">r</text>
<g transform="translate(21.7,149.3) rotate(-90)"><text x="0" y="0" font-size="19.2" font-style="italic" textLength="14.2" lengthAdjust="spacingAndGlyphs">V</text><path d="M0.2 -15.2 H14.9" stroke="#000" stroke-width="1"/><text x="14.7" y="2.9" font-size="13" textLength="15.2" lengthAdjust="spacingAndGlyphs">eff</text><text x="30.8" y="0" font-size="18" textLength="19.6" lengthAdjust="spacingAndGlyphs">(<tspan font-style="italic">r</tspan>)</text></g>
<g fill="none" stroke-width="2.4">
<path d="M105.2 39.45 H153" stroke="#5E81B5" stroke-dasharray="8.6 3.6" stroke-dashoffset="0"/>
<path d="M105.2 60.10 H153" stroke="#E19C24" stroke-dasharray="3.7 2.4" stroke-dashoffset="0"/>
<path d="M105.2 80.40 H153" stroke="#007A00" stroke-dasharray="7.6 2.0 3.9 2.1" stroke-dashoffset="9.6"/>
<path d="M105.2 101.00 H153" stroke="#000000" stroke-dasharray="12 2.3 3.6 2.6 3.6 2.3" stroke-dashoffset="14.3"/>
<path d="M105.2 121.50 H153" stroke="#FF0000"/>
</g>
<path d="M155.9 30.50 H172.1" stroke="#000" stroke-width="1"/><text x="158" y="45.55" font-size="18" font-style="italic" textLength="13" lengthAdjust="spacingAndGlyphs">T</text><text x="172.9" y="45.55" font-size="18" textLength="11.2" lengthAdjust="spacingAndGlyphs" style="stroke:none">=</text><text x="184" y="45.55" font-size="18" textLength="33" lengthAdjust="spacingAndGlyphs">0.38</text>
<path d="M155.9 50.50 H172.1" stroke="#000" stroke-width="1"/><text x="158" y="66.20" font-size="18" font-style="italic" textLength="13" lengthAdjust="spacingAndGlyphs">T</text><text x="172.9" y="66.20" font-size="18" textLength="11.2" lengthAdjust="spacingAndGlyphs" style="stroke:none">=</text><text x="184" y="66.20" font-size="18" textLength="33" lengthAdjust="spacingAndGlyphs">0.42</text>
<path d="M155.9 70.50 H172.1" stroke="#000" stroke-width="1"/><text x="158" y="86.50" font-size="18" font-style="italic" textLength="13" lengthAdjust="spacingAndGlyphs">T</text><text x="172.9" y="86.50" font-size="18" textLength="11.2" lengthAdjust="spacingAndGlyphs" style="stroke:none">=</text><text x="184" y="86.50" font-size="18" textLength="33" lengthAdjust="spacingAndGlyphs">0.45</text>
<path d="M155.9 91.50 H172.1" stroke="#000" stroke-width="1"/><text x="158" y="107.10" font-size="18" font-style="italic" textLength="13" lengthAdjust="spacingAndGlyphs">T</text><text x="172.9" y="107.10" font-size="18" textLength="11.2" lengthAdjust="spacingAndGlyphs" style="stroke:none">=</text><text x="184" y="107.10" font-size="18" textLength="33" lengthAdjust="spacingAndGlyphs">0.48</text>
<path d="M155.9 112.50 H172.1" stroke="#000" stroke-width="1"/><text x="158" y="127.60" font-size="18" font-style="italic" textLength="13" lengthAdjust="spacingAndGlyphs">T</text><text x="172.9" y="127.60" font-size="18" textLength="11.2" lengthAdjust="spacingAndGlyphs" style="stroke:none">=</text><text x="184" y="127.60" font-size="18" textLength="33" lengthAdjust="spacingAndGlyphs">0.51</text>
</svg>
</body></html>
